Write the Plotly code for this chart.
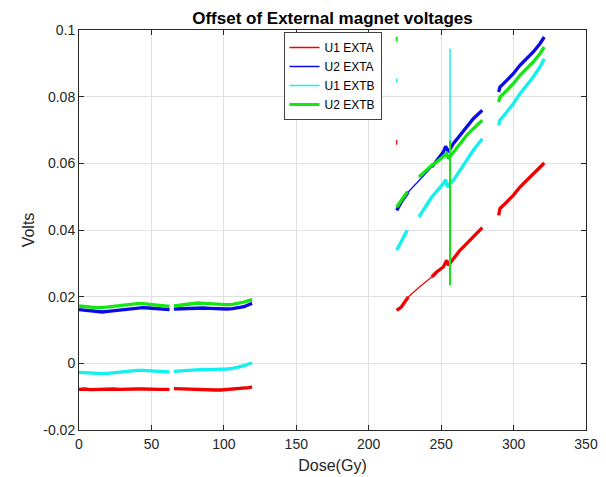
import plotly.graph_objects as go

# ---------------- data ----------------
# first run: dose 0-120 Gy, shared dose grid (gap near 63-65 Gy)
dose_early = [0, 4, 8, 12, 16, 20, 24, 28, 32, 36, 40, 44, 48, 52, 56, 60, 62.5, None,
              65.5, 70, 74, 78, 82, 86, 90, 94, 98, 102, 106, 110, 114, 117, 119.5]
u1_exta_early = [-0.0078, -0.0077, -0.0079, -0.0078, -0.0078, -0.0077, -0.0077, -0.0078, -0.0077,
                 -0.0076, -0.0077, -0.0077, -0.0078, -0.0078, -0.0078, -0.0078, -0.0078, None,
                 -0.0076, -0.0077, -0.0077, -0.0077, -0.0078, -0.0079, -0.0080, -0.0080, -0.0080,
                 -0.0079, -0.0078, -0.0077, -0.0075, -0.0073, -0.0071]
u2_exta_early = [0.0161, 0.0159, 0.0157, 0.0155, 0.0154, 0.0156, 0.0158, 0.0161, 0.0163,
                 0.0165, 0.0166, 0.0167, 0.0166, 0.0165, 0.0163, 0.0161, 0.0161, None,
                 0.0163, 0.0164, 0.0165, 0.0166, 0.0167, 0.0166, 0.0165, 0.0164, 0.0164,
                 0.0163, 0.0164, 0.0166, 0.0170, 0.0176, 0.0180]
u1_extb_early = [-0.0027, -0.0028, -0.0030, -0.0031, -0.0031, -0.0030, -0.0028, -0.0025, -0.0023,
                 -0.0021, -0.0021, -0.0021, -0.0022, -0.0023, -0.0024, -0.0026, -0.0026, None,
                 -0.0024, -0.0023, -0.0021, -0.0019, -0.0018, -0.0018, -0.0019, -0.0019, -0.0018,
                 -0.0017, -0.0015, -0.0012, -0.0007, -0.0002, 0.0001]
u2_extb_early = [0.0172, 0.0170, 0.0168, 0.0167, 0.0167, 0.0169, 0.0171, 0.0174, 0.0177,
                 0.0178, 0.0179, 0.0179, 0.0177, 0.0175, 0.0173, 0.0171, 0.0171, None,
                 0.0172, 0.0175, 0.0178, 0.0180, 0.0181, 0.0180, 0.0179, 0.0177, 0.0176,
                 0.0176, 0.0177, 0.0180, 0.0184, 0.0188, 0.0191]

# second run: dose ~219-278 Gy (thick, noisy parts)
u1_exta_mid_dose = [219.3, 222.5, 227.3, None,
                    243.5, 246.9, 251.5, 253.8, 255.0, 258.4, 263.0, 267.6, 272.2, 278.4]
u1_exta_mid = [0.0159, 0.0169, 0.0199, None,
               0.0259, 0.0274, 0.0289, 0.0309, 0.0294, 0.0314, 0.0339, 0.0359, 0.0379, 0.0407]
u2_exta_mid_dose = [219.3, 223.0, 227.3, None,
                    243.5, 246.9, 251.5, 253.1, 255.0, 258.4, 263.0, 267.6, 272.2, 278.4]
u2_exta_mid = [0.0459, 0.0487, 0.0514, None,
               0.0589, 0.0609, 0.0634, 0.0651, 0.0634, 0.0659, 0.0684, 0.0709, 0.0734, 0.0759]
u1_extb_mid_dose = [219.3, 223.0, 226.6, None,
                    234.7, 239.0, 243.5, 247.5, 251.5, 253.1, 254.3, 256.1, 258.4, 263.0, 267.6,
                    272.2, 278.4]
u1_extb_mid = [0.0339, 0.0369, 0.0399, None,
               0.0439, 0.0469, 0.0499, 0.0519, 0.0539, 0.0551, 0.0529, 0.0540, 0.0549, 0.0579, 0.0609,
               0.0639, 0.0674]
u2_extb_mid_dose = [219.3, 222.5, 226.6, None,
                    234.7, 239.0, 243.5, 247.5, 251.5, 253.8, 255.0, 256.1, 258.4, 263.0, 267.6,
                    272.2, 278.4]
u2_extb_mid = [0.0469, 0.0490, 0.0514, None,
               0.0559, 0.0577, 0.0594, 0.0606, 0.0619, 0.0629, 0.0614, 0.0620, 0.0634, 0.0659, 0.0684,
               0.0704, 0.0729]

# second run: sparse (thin) stretches, spikes and isolated outliers
u1_exta_thin_dose = [227.3, 235.0, 243.5, None, 219.3, 219.3]
u1_exta_thin = [0.0199, 0.0229, 0.0259, None, 0.0656, 0.0670]
u2_exta_thin_dose = [227.3, 235.0, 243.5]
u2_exta_thin = [0.0514, 0.0551, 0.0589]
u1_extb_thin_dose = [256.1, 256.1, None, 219.3, 219.3]
u1_extb_thin = [0.0944, 0.0540, None, 0.0843, 0.0855]
u2_extb_thin_dose = [256.1, 256.1, None, 219.3, 219.3]
u2_extb_thin = [0.0669, 0.0234, None, 0.0966, 0.0980]

# third run: dose ~290-321 Gy (shared dose grid)
dose_late = [289.7, 290.6, 295.3, 299.8, 304.4, 309.1, 313.6, 318.2, 321.2]
u1_exta_late = [0.0444, 0.0464, 0.0484, 0.0504, 0.0529, 0.0549, 0.0569, 0.0589, 0.0601]
u2_exta_late = [0.0814, 0.0829, 0.0849, 0.0869, 0.0894, 0.0914, 0.0934, 0.0959, 0.0979]
u1_extb_late = [0.0714, 0.0729, 0.0754, 0.0779, 0.0809, 0.0834, 0.0859, 0.0889, 0.0914]
u2_extb_late = [0.0784, 0.0799, 0.0819, 0.0839, 0.0864, 0.0884, 0.0904, 0.0929, 0.0949]

series_names = ["U1 EXTA", "U2 EXTA", "U1 EXTB", "U2 EXTB"]
series_colors = ["#f20000", "#0a0ae6", "#12f0f0", "#14e614"]

x_ticks = [0, 50, 100, 150, 200, 250, 300, 350]
y_ticks = [-0.02, 0, 0.02, 0.04, 0.06, 0.08, 0.1]
y_tick_text = ["-0.02", "0", "0.02", "0.04", "0.06", "0.08", "0.1"]

# ---------------- figure ----------------
FONT = "Liberation Sans, Arial, Helvetica, sans-serif"
fig = go.Figure()

main = [
    (dose_early + [None] + u1_exta_mid_dose + [None] + dose_late,
     u1_exta_early + [None] + u1_exta_mid + [None] + u1_exta_late),
    (dose_early + [None] + u2_exta_mid_dose + [None] + dose_late,
     u2_exta_early + [None] + u2_exta_mid + [None] + u2_exta_late),
    (dose_early + [None] + u1_extb_mid_dose + [None] + dose_late,
     u1_extb_early + [None] + u1_extb_mid + [None] + u1_extb_late),
    (dose_early + [None] + u2_extb_mid_dose + [None] + dose_late,
     u2_extb_early + [None] + u2_extb_mid + [None] + u2_extb_late),
]
thin = [(u1_exta_thin_dose, u1_exta_thin), (u2_exta_thin_dose, u2_exta_thin),
        (u1_extb_thin_dose, u1_extb_thin), (u2_extb_thin_dose, u2_extb_thin)]
thin_widths = [1.2, 1.2, 1.5, 2]

for i, (xs, ys) in enumerate(main):
    fig.add_trace(go.Scatter(x=xs, y=ys, mode="lines", showlegend=False, connectgaps=False,
                             line=dict(color=series_colors[i], width=3.3)))
    bx, by = thin[i]
    fig.add_trace(go.Scatter(x=bx, y=by, mode="lines", showlegend=False, hoverinfo="skip",
                             connectgaps=False,
                             line=dict(color=series_colors[i], width=thin_widths[i])))

# legend entries (MATLAB-like thin sample lines)
legend_widths = [1.6, 1.6, 1.6, 2.8]
for i, name in enumerate(series_names):
    fig.add_trace(go.Scatter(x=[None], y=[None], mode="lines", name=name,
                             line=dict(color=series_colors[i], width=legend_widths[i])))

axis_common = dict(
    showline=True, linecolor="#262626", linewidth=1, mirror="ticks",
    ticks="inside", ticklen=5, tickcolor="#262626",
    showgrid=True, gridcolor="#e1e1e1", gridwidth=1, zeroline=False,
    automargin=False,
    tickfont=dict(family=FONT, size=14, color="#262626"),
)

# the page body adds an 8px offset; figure size/margins compensate for it
FIG_W, FIG_H = 598, 469
fig.update_layout(
    width=FIG_W, height=FIG_H,
    margin=dict(l=71, r=20, t=22, b=47, autoexpand=False),
    paper_bgcolor="white", plot_bgcolor="white",
    font=dict(family=FONT, color="#262626"),
    title=dict(text="<b>Offset of External magnet voltages</b>",
               font=dict(family=FONT, size=17, color="#000000"),
               x=0.5, xref="paper", xanchor="center",
               y=1 - 10 / FIG_H, yref="container", yanchor="middle"),
    xaxis=dict(range=[0, 350], tickvals=x_ticks,
               title=dict(text="Dose(Gy)", font=dict(family=FONT, size=16, color="#262626"), standoff=9),
               ticklabelstandoff=1,
               **axis_common),
    yaxis=dict(range=[-0.02, 0.1], tickvals=y_ticks, ticktext=y_tick_text,
               title=dict(text="Volts", font=dict(family=FONT, size=16, color="#262626"), standoff=4),
               **axis_common),
    legend=dict(x=0.5, xanchor="center", y=0.995, yanchor="top",
                bgcolor="white", bordercolor="#404040", borderwidth=1,
                font=dict(family=FONT, size=12, color="#000000"),
                itemwidth=30, tracegroupgap=0),
    showlegend=True,
)

fig.write_html("out.html")
